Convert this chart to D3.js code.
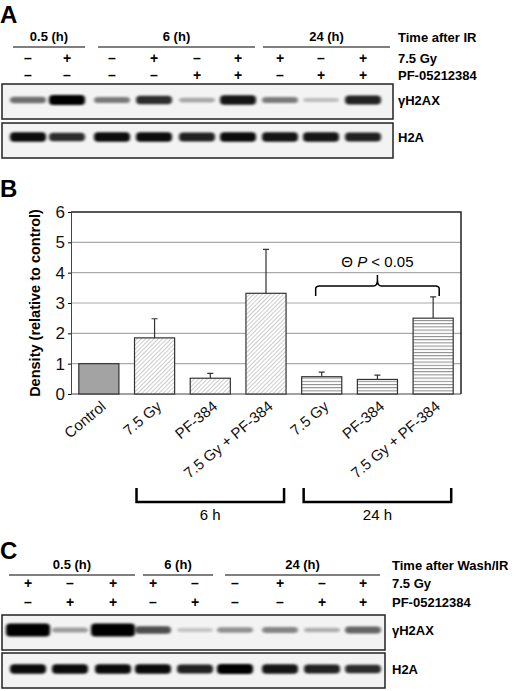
<!DOCTYPE html>
<html><head><meta charset="utf-8">
<script src="https://cdn.jsdelivr.net/npm/d3@7"></script>
<style>body{margin:0;background:#fff}text{font-family:Arial,"Liberation Sans",sans-serif}</style>
</head><body>
<script>
// panel B data
var categories = ["Control","7.5 Gy","PF-384","7.5 Gy + PF-384","7.5 Gy ","PF-384 ","7.5 Gy + PF-384 "]
var labels = ["Control","7.5 Gy","PF-384","7.5 Gy + PF-384","7.5 Gy","PF-384","7.5 Gy + PF-384"]
var density = [1.0, 1.85, 0.52, 3.32, 0.57, 0.48, 2.5]
var errTop = [null, 2.48, 0.68, 4.77, 0.72, 0.62, 3.2]
var group = ["ctl","6h","6h","6h","24h","24h","24h"]
var yTicks = [0,1,2,3,4,5,6]

// blots
var gyA = ["–","+","–","+","–","+","+","–","+"]
var pfA = ["–","–","–","–","+","+","–","+","+"]
var gH2axA = [0.5,1,0.45,0.8,0.25,0.9,0.45,0.15,0.85]
var h2aA = [0.95,0.8,0.95,0.95,0.85,0.95,0.9,0.9,0.85]
var gyC = ["+","–","+","+","–","–","+","–","+"]
var pfC = ["–","+","+","–","+","–","–","+","+"]
var gH2axC = [1.4,0.3,1.4,0.65,0.12,0.35,0.4,0.22,0.55]
var h2aC = [0.95,0.95,0.95,0.95,0.85,1,0.9,0.85,0.8]

var svg = d3.select("body").append("svg").attr("width",520).attr("height",691)
var defs = svg.append("defs")
defs.append("filter").attr("id","blur").attr("x","-20%").attr("y","-150%").attr("width","140%").attr("height","400%")
  .append("feGaussianBlur").attr("stdDeviation","1.8 1.3")
var p1 = defs.append("pattern").attr("id","diag").attr("patternUnits","userSpaceOnUse")
  .attr("width",3).attr("height",3).attr("patternTransform","rotate(45)")
p1.append("rect").attr("width",3).attr("height",3).attr("fill","#fff")
p1.append("line").attr("x1",0).attr("x2",0).attr("y1",0).attr("y2",3).attr("stroke","#999").attr("stroke-width",1)
var p2 = defs.append("pattern").attr("id","horiz").attr("patternUnits","userSpaceOnUse").attr("width",4).attr("height",3.2)
p2.append("rect").attr("width",4).attr("height",3.2).attr("fill","#fff")
p2.append("line").attr("x1",0).attr("x2",4).attr("y1",0.5).attr("y2",0.5).attr("stroke","#888").attr("stroke-width",1)

var bold = function(sel){return sel.attr("font-weight","bold")}

var drawBlotPanel = function(cfg)
{
  var g = svg.append("g")
  bold(g.append("text").attr("x",0).attr("y",cfg.letterY).attr("font-size",24).text(cfg.letter))
  cfg.headers.forEach(function(h)
  {
    bold(g.append("text").attr("x",(h[1]+h[2])/2).attr("y",cfg.headY).attr("text-anchor","middle").attr("font-size",13).text(h[0]))
    g.append("line").attr("x1",h[1]).attr("x2",h[2]).attr("y1",cfg.headY+6).attr("y2",cfg.headY+6).attr("stroke","#000").attr("stroke-width",1.2)
  })
  bold(g.append("text").attr("x",cfg.labelX).attr("y",cfg.headY+1).attr("font-size",13).text(cfg.title))
  bold(g.append("text").attr("x",cfg.labelX).attr("y",cfg.row1Y).attr("font-size",13).text("7.5 Gy"))
  bold(g.append("text").attr("x",cfg.labelX).attr("y",cfg.row2Y).attr("font-size",13).text("PF-05212384"))
  cfg.lanes.forEach(function(x,i)
  {
    bold(g.append("text").attr("x",x).attr("y",cfg.row1Y).attr("text-anchor","middle").attr("font-size",14).text(cfg.gy[i]))
    bold(g.append("text").attr("x",x).attr("y",cfg.row2Y).attr("text-anchor","middle").attr("font-size",14).text(cfg.pf[i]))
  })
  cfg.blots.forEach(function(b)
  {
    g.append("rect").attr("x",2).attr("y",b.y).attr("width",cfg.boxW).attr("height",35)
      .attr("fill","#f3f3f3").attr("stroke","#222").attr("stroke-width",1.5)
    g.selectAll(null).data(b.vals).enter().append("rect")
      .attr("x",function(d,i){return cfg.lanes[i]-18 - (d>1?4:0)})
      .attr("width",function(d){return d>1?44:36})
      .attr("y",function(d){return b.y+b.cy-(1.5+3.5*d)})
      .attr("height",function(d){return 3+7*d})
      .attr("rx",4)
      .attr("fill","#000").attr("opacity",function(d){return Math.min(1,0.08+0.92*d)})
      .attr("filter","url(#blur)")
    bold(g.append("text").attr("x",cfg.labelX).attr("y",b.y+b.cy+5).attr("font-size",13).text(b.label))
  })
}

drawBlotPanel({letter:"A",letterY:23,headY:41,labelX:398,title:"Time after IR",row1Y:63,row2Y:80,boxW:391,
  headers:[["0.5 (h)",13,85],["6 (h)",98,255],["24 (h)",263,390]],
  lanes:[28,67,112,154,197,238,280,321,363],gy:gyA,pf:pfA,
  blots:[{y:84,cy:16,vals:gH2axA,label:"γH2AX"},{y:123,cy:14,vals:h2aA,label:"H2A"}]})

drawBlotPanel({letter:"C",letterY:559,headY:569,labelX:392,title:"Time after Wash/IR",row1Y:588,row2Y:607,boxW:383,
  headers:[["0.5 (h)",9,135],["6 (h)",143,213],["24 (h)",225,380]],
  lanes:[28,70,113,153,195,235,280,322,363],gy:gyC,pf:pfC,
  blots:[{y:615,cy:15,vals:gH2axC,label:"γH2AX"},{y:653,cy:16,vals:h2aC,label:"H2A"}]})

// panel B chart
bold(svg.append("text").attr("x",0).attr("y",197).attr("font-size",24).text("B"))
var x = d3.scaleBand().domain(categories).range([71,461]).paddingInner(0.28).paddingOuter(0.14)
var y = d3.scaleLinear().domain([0,6]).range([394,212])
var gB = svg.append("g")
gB.selectAll(".grid").data(yTicks.slice(1,6)).enter().append("line")
  .attr("x1",71).attr("x2",461).attr("y1",function(d){return y(d)}).attr("y2",function(d){return y(d)})
  .attr("stroke","#aaa").attr("stroke-width",1.2)
gB.append("path").attr("d","M71,"+y(6)+"H461V"+y(0)).attr("fill","none").attr("stroke","#222").attr("stroke-width",1.5)
gB.append("g").attr("transform","translate(71,0)")
  .call(d3.axisLeft(y).tickValues(yTicks).tickSize(3).tickFormat(d3.format("d")))
  .call(function(a){a.select(".domain").attr("stroke","#444");a.selectAll("text").attr("font-size",17).attr("font-family","Arial,sans-serif").attr("fill","#111")})
gB.append("line").attr("x1",71).attr("x2",461).attr("y1",y(0)).attr("y2",y(0)).attr("stroke","#444").attr("stroke-width",1.2)
// error bars
gB.selectAll(".err").data(categories.filter(function(c,i){return errTop[i]!=null})).enter().append("path")
  .attr("d",function(c){var i=categories.indexOf(c),cx=x(c)+x.bandwidth()/2
    return "M"+cx+","+y(density[i])+"V"+y(errTop[i])+"M"+(cx-3)+","+y(errTop[i])+"H"+(cx+3)})
  .attr("stroke","#333").attr("stroke-width",1.2).attr("fill","none")
gB.selectAll(".bar").data(categories).enter().append("rect")
  .attr("x",function(c){return x(c)}).attr("width",x.bandwidth())
  .attr("y",function(c,i){return y(density[i])}).attr("height",function(c,i){return y(0)-y(density[i])})
  .attr("fill",function(c,i){return group[i]=="ctl"?"#a3a3a3":group[i]=="6h"?"url(#diag)":"url(#horiz)"})
  .attr("stroke","#333").attr("stroke-width",1.2)
bold(svg.append("text").attr("transform","translate(40,"+y(3)+") rotate(-90)").attr("text-anchor","middle")
  .attr("font-size",14.5).text("Density (relative to control)"))
gB.selectAll(".xl").data(categories).enter().append("text")
  .attr("transform",function(c){return "translate("+(x(c)+x.bandwidth()/2+8)+",408) rotate(-40)"})
  .attr("text-anchor","end").attr("font-size",15).attr("fill","#111").text(function(c,i){return labels[i]})
// group brackets
var brackets = [["6 h",1,3],["24 h",4,6]]
brackets.forEach(function(b)
{
  var x0 = x(categories[b[1]])+2, x1 = x(categories[b[2]])+x.bandwidth()-2
  gB.append("path").attr("d","M"+x0+",488V502H"+x1+"V488").attr("fill","none").attr("stroke","#000").attr("stroke-width",2.5)
  gB.append("text").attr("x",(x0+x1)/2).attr("y",520).attr("text-anchor","middle").attr("font-size",15).text(b[0])
})
// significance brace
var bx0 = x(categories[4])+14, bx1 = x(categories[6])+x.bandwidth()-14, bm = (bx0+bx1)/2
gB.append("path").attr("d","M"+bx0+",296V289Q"+bx0+",286 "+(bx0+4)+",286H"+(bm-4)+"Q"+bm+",286 "+bm+",280V275M"+bm+",280Q"+bm+",286 "+(bm+4)+",286H"+(bx1-4)+"Q"+bx1+",286 "+bx1+",289V296")
  .attr("fill","none").attr("stroke","#000").attr("stroke-width",1.5)
var sig = gB.append("text").attr("x",bm).attr("y",267).attr("text-anchor","middle").attr("font-size",15)
sig.append("tspan").text("Θ ")
sig.append("tspan").attr("font-style","italic").text("P")
sig.append("tspan").text(" < 0.05")
</script>
</body></html>
